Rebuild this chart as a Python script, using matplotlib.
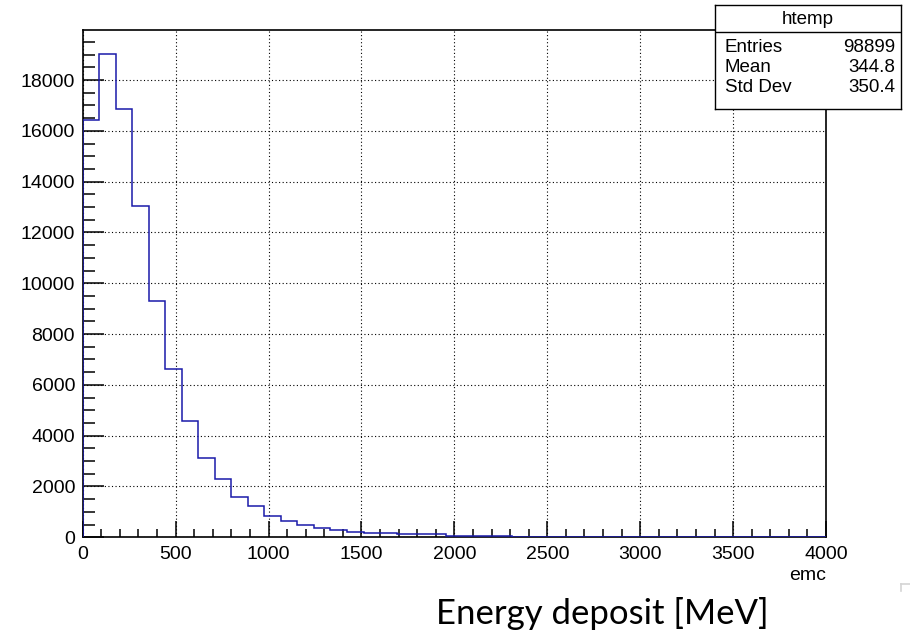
import numpy as np
import matplotlib
matplotlib.use('Agg')
import matplotlib.pyplot as plt
from matplotlib.ticker import MultipleLocator
from matplotlib.lines import Line2D

# histogram of emc: 45 bins from 0 to 4000
x_min, x_max, n_bins = 0, 4000, 45
counts = [16430, 19040, 16850, 13060, 9320, 6620, 4590, 3120, 2280, 1600,
          1220, 850, 630, 480, 370, 270, 210, 170, 150, 135,
          125, 115, 70, 65, 35, 32, 30, 28, 26, 24,
          22, 20, 18, 16, 0, 0, 0, 0, 0, 0,
          0, 0, 0, 0, 0]
edges = np.linspace(x_min, x_max, n_bins + 1)

stat_names = ['Entries', 'Mean', 'Std Dev']
stat_values = ['98899', '344.8', '350.4']
hist_name = 'htemp'

plt.rcParams['font.family'] = ['Liberation Sans', 'DejaVu Sans']

W, H = 910, 638
fig = plt.figure(figsize=(W / 100, H / 100), dpi=100)
ax = fig.add_axes([82.7 / W, 1 - 537.3 / H, (826 - 82.7) / W, (537.3 - 29.5) / H])

ax.stairs(counts, edges, color='#1a1aaa', linewidth=1.1, zorder=3)

ax.set_xlim(x_min, x_max)
ax.set_ylim(0, 19990)
ax.xaxis.set_major_locator(MultipleLocator(500))
ax.xaxis.set_minor_locator(MultipleLocator(100))
ax.yaxis.set_major_locator(MultipleLocator(2000))
ax.yaxis.set_minor_locator(MultipleLocator(500))

ax.grid(True, which='major', color='black', linestyle=(0, (1, 2.2)), linewidth=0.8)
ax.tick_params(axis='both', which='both', direction='in', width=1.1, colors='black',
               labelsize=14, top=False, right=False)
ax.tick_params(axis='y', which='major', length=14.9, pad=5.5)
ax.tick_params(axis='y', which='minor', length=8.3)
ax.tick_params(axis='x', which='major', length=11.2, pad=6)
ax.tick_params(axis='x', which='minor', length=5.5)
for sp in ax.spines.values():
    sp.set_linewidth(1.2)

ax.set_xlabel('emc', fontsize=14, loc='right', labelpad=3)

# stats box
sb = fig.add_axes([715 / W, 1 - 109 / H, 186 / W, 104 / H])
sb.set_xticks([])
sb.set_yticks([])
sb.set_xlim(0, 1)
sb.set_ylim(0, 1)
for sp in sb.spines.values():
    sp.set_linewidth(1.0)
header = 1 - (31.7 - 5) / 104
sb.axhline(header, color='black', linewidth=1.0)
sb.text(0.5, 1 - (19.5 - 5) / 104, hist_name, ha='center', va='center', fontsize=13.5)
for i, (name, val) in enumerate(zip(stat_names, stat_values)):
    yy = 1 - (47.7 + 20 * i - 5) / 104
    sb.text(10 / 186, yy, name, ha='left', va='center', fontsize=13.5)
    sb.text(180 / 186, yy, val, ha='right', va='center', fontsize=13.5)

fig.text(602 / W, 1 - 613 / H, 'Energy deposit [MeV]', ha='center', va='center',
         fontsize=25, family=['Lato', 'DejaVu Sans'])

# small corner mark at the right edge
fig.add_artist(Line2D([901 / W, 910 / W], [1 - 583.5 / H, 1 - 583.5 / H],
                      color='#d4d4d4', linewidth=1.2))
fig.add_artist(Line2D([901 / W, 901 / W], [1 - 583.5 / H, 1 - 591 / H],
                      color='#d4d4d4', linewidth=1.2))

fig.savefig('out.png', dpi=100)
